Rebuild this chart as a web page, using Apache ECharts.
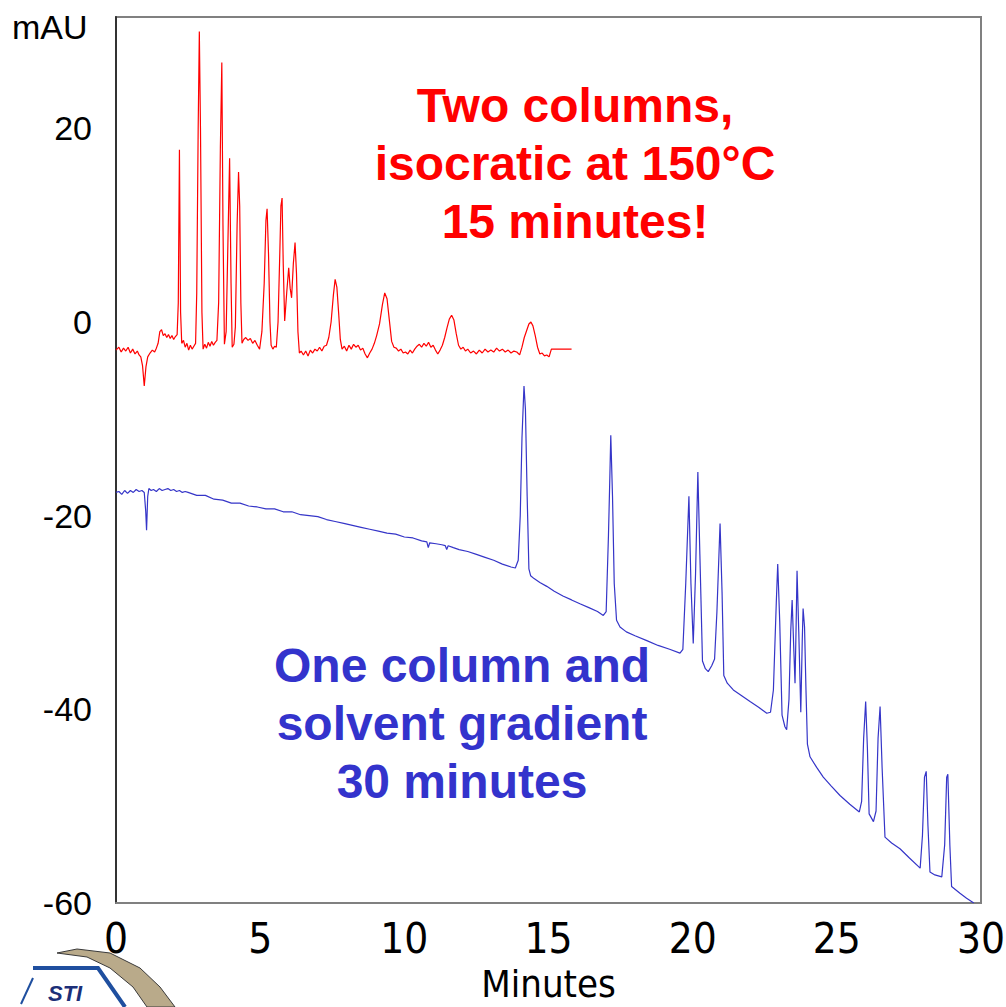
<!DOCTYPE html>
<html>
<head>
<meta charset="utf-8">
<script src="https://cdn.jsdelivr.net/npm/echarts@6/dist/echarts.min.js"></script>
<style>
  html, body { margin: 0; padding: 0; background: #fff; }
  #chart { width: 1006px; height: 1007px; }
</style>
</head>
<body>
<div id="chart"></div>
<script>
// red trace: two columns, isocratic at 150 C (minutes, mAU)
const redTime = [
  0.00, 0.10, 0.18, 0.26, 0.34, 0.42, 0.50, 0.58, 0.66, 0.74, 0.80, 0.86, 0.92, 0.98, 1.04, 1.10,
  1.18, 1.26, 1.34, 1.40, 1.46, 1.52, 1.58, 1.64, 1.70, 1.76, 1.82, 1.88, 1.94, 2.00, 2.06, 2.12,
  2.16, 2.20, 2.24, 2.28, 2.34, 2.40, 2.46, 2.52, 2.58, 2.64, 2.70, 2.76, 2.80, 2.85, 2.89, 2.93,
  2.98, 3.02, 3.08, 3.14, 3.20, 3.26, 3.32, 3.38, 3.44, 3.50, 3.56, 3.62, 3.67, 3.71, 3.76, 3.82,
  3.88, 3.94, 3.99, 4.03, 4.09, 4.14, 4.20, 4.25, 4.29, 4.33, 4.37, 4.43, 4.50, 4.58, 4.66, 4.74,
  4.82, 4.90, 4.98, 5.06, 5.14, 5.20, 5.24, 5.29, 5.34, 5.38, 5.44, 5.50, 5.56, 5.62, 5.68, 5.72,
  5.76, 5.80, 5.85, 5.92, 5.99, 6.04, 6.09, 6.15, 6.21, 6.26, 6.31, 6.36, 6.42, 6.50, 6.58, 6.66,
  6.74, 6.82, 6.90, 6.98, 7.06, 7.14, 7.22, 7.30, 7.38, 7.46, 7.54, 7.60, 7.66, 7.72, 7.78, 7.84,
  7.92, 8.00, 8.08, 8.16, 8.24, 8.32, 8.40, 8.48, 8.56, 8.64, 8.72, 8.80, 8.88, 8.96, 9.04, 9.14,
  9.24, 9.32, 9.40, 9.48, 9.56, 9.64, 9.72, 9.80, 9.88, 9.96, 10.04, 10.12, 10.20, 10.28, 10.36, 10.44,
  10.52, 10.60, 10.68, 10.76, 10.84, 10.92, 11.00, 11.08, 11.16, 11.24, 11.32, 11.40, 11.48, 11.56, 11.64, 11.72,
  11.80, 11.88, 11.96, 12.04, 12.12, 12.20, 12.30, 12.40, 12.50, 12.60, 12.70, 12.80, 12.90, 13.00, 13.10, 13.20,
  13.30, 13.40, 13.50, 13.60, 13.70, 13.80, 13.90, 14.00, 14.08, 14.16, 14.24, 14.32, 14.39, 14.46, 14.54, 14.62,
  14.70, 14.78, 14.86, 14.94, 15.02, 15.10, 15.80
];
const redSignal = [
  -2.9, -2.6, -3.1, -2.7, -3.0, -2.6, -3.2, -2.8, -3.3, -3.0, -3.4, -3.6, -4.5, -6.6, -4.6, -3.6,
  -3.2, -2.9, -3.1, -2.7, -2.2, -1.0, -0.8, -1.4, -1.2, -1.6, -1.3, -1.7, -1.4, -1.8, -1.5, -1.3,
  2.0, 17.8, 1.0, -2.2, -1.9, -2.6, -2.2, -2.9, -2.4, -2.8, -2.5, -2.2, 3.0, 20.0, 30.0, 20.0,
  1.0, -2.8, -2.3, -2.7, -2.1, -2.5, -2.0, -2.4, -2.1, -1.9, 2.0, 18.0, 26.8, 10.0, -2.3, -1.0,
  8.0, 16.9, 4.0, -2.6, -2.3, -0.5, 10.0, 15.5, 12.0, 2.0, -2.2, -1.8, -1.6, -1.9, -1.7, -2.2,
  -1.9, -2.4, -2.8, -1.0, 4.0, 10.5, 11.7, 7.0, 0.0, -2.4, -2.8, -2.5, -2.6, 0.0, 7.0, 12.0,
  12.8, 6.0, 0.1, 3.0, 5.6, 3.5, 2.5, 6.0, 8.2, 5.0, -1.0, -3.2, -3.0, -3.4, -3.0, -3.5,
  -2.9, -3.2, -2.8, -3.0, -2.6, -3.0, -2.5, -2.4, -1.6, 0.0, 2.8, 4.4, 3.6, 1.0, -1.8, -2.8,
  -2.5, -3.0, -2.4, -2.8, -2.3, -2.6, -2.4, -2.9, -2.7, -3.3, -3.7, -3.2, -2.8, -2.2, -1.4, -0.2,
  1.8, 3.0, 2.4, 0.2, -2.0, -2.6, -2.7, -3.0, -2.8, -3.2, -3.1, -3.3, -2.9, -3.2, -2.8, -2.5,
  -2.3, -2.6, -2.2, -2.5, -2.1, -2.6, -2.4, -2.9, -3.3, -2.9, -2.4, -1.6, -0.6, 0.3, 0.7, 0.2,
  -1.2, -2.4, -2.8, -2.6, -3.0, -2.8, -3.2, -3.0, -3.3, -2.9, -3.2, -2.8, -3.1, -2.9, -3.1, -2.7,
  -3.0, -2.8, -3.1, -2.9, -3.2, -3.0, -3.1, -3.4, -2.6, -1.6, -0.9, -0.2, 0.0, -0.4, -1.4, -2.6,
  -3.3, -3.2, -3.5, -3.4, -3.6, -2.8, -2.8
];

// blue trace: one column and solvent gradient (minutes, mAU)
const blueTime = [
  0.00, 0.10, 0.20, 0.30, 0.40, 0.50, 0.60, 0.70, 0.80, 0.90, 0.98, 1.03, 1.06, 1.10, 1.14, 1.22,
  1.30, 1.40, 1.50, 1.60, 1.70, 1.80, 1.90, 2.00, 2.10, 2.20, 2.30, 2.40, 2.50, 2.80, 3.10, 3.40,
  3.70, 4.00, 4.30, 4.60, 4.90, 5.20, 5.50, 5.80, 6.10, 6.40, 6.70, 7.00, 7.30, 7.60, 7.90, 8.20,
  8.50, 8.80, 9.10, 9.40, 9.70, 10.00, 10.30, 10.60, 10.78, 10.83, 10.88, 11.10, 11.30, 11.42, 11.47, 11.52,
  11.70, 11.90, 12.20, 12.50, 12.80, 13.10, 13.40, 13.70, 13.85, 13.95, 14.02, 14.08, 14.15, 14.20, 14.26, 14.32,
  14.38, 14.50, 14.70, 14.94, 15.20, 15.50, 15.80, 16.09, 16.40, 16.70, 16.90, 17.00, 17.08, 17.12, 17.16, 17.22,
  17.28, 17.36, 17.48, 17.70, 18.00, 18.41, 18.80, 19.20, 19.56, 19.66, 19.76, 19.87, 19.94, 20.02, 20.10, 20.18,
  20.25, 20.34, 20.44, 20.54, 20.66, 20.76, 20.84, 20.95, 21.02, 21.08, 21.20, 21.41, 21.70, 21.99, 22.30, 22.57,
  22.70, 22.80, 22.90, 22.95, 23.02, 23.10, 23.20, 23.26, 23.34, 23.40, 23.45, 23.51, 23.55, 23.59, 23.62, 23.68,
  23.75, 23.80, 23.83, 23.88, 23.93, 23.98, 24.07, 24.30, 24.53, 24.80, 25.11, 25.45, 25.78, 25.86, 25.93, 26.00,
  26.06, 26.12, 26.27, 26.36, 26.43, 26.50, 26.57, 26.67, 26.90, 27.19, 27.50, 27.89, 27.97, 28.04, 28.10, 28.16,
  28.23, 28.40, 28.64, 28.74, 28.81, 28.85, 28.92, 28.98, 29.27, 29.50, 29.75
];
const blueSignal = [
  -17.6, -17.5, -17.8, -17.4, -17.7, -17.4, -17.6, -17.3, -17.5, -17.4, -17.6, -19.5, -21.5, -18.0, -17.2, -17.4,
  -17.3, -17.5, -17.2, -17.4, -17.3, -17.2, -17.4, -17.3, -17.5, -17.4, -17.6, -17.5, -17.6, -17.9, -17.9, -18.3,
  -18.4, -18.7, -18.7, -19.0, -19.1, -19.3, -19.3, -19.6, -19.6, -19.9, -20.0, -20.1, -20.4, -20.6, -20.8, -21.0,
  -21.2, -21.4, -21.6, -21.8, -21.9, -22.2, -22.3, -22.6, -22.7, -23.3, -22.8, -22.9, -23.0, -23.1, -23.5, -23.1,
  -23.3, -23.5, -23.7, -24.0, -24.3, -24.6, -25.0, -25.3, -25.4, -24.6, -20.0, -12.0, -6.6, -9.0, -18.0, -25.5,
  -26.2, -26.5, -26.9, -27.3, -27.8, -28.3, -28.7, -29.1, -29.5, -29.9, -30.3, -29.9, -22.0, -17.0, -11.7, -18.0,
  -27.0, -30.8, -31.5, -32.0, -32.4, -32.9, -33.4, -33.8, -34.2, -33.8, -27.0, -18.0, -27.0, -33.2, -26.0, -15.5,
  -24.0, -35.0, -35.8, -36.1, -35.5, -34.8, -30.0, -20.8, -28.0, -36.5, -37.3, -38.0, -38.6, -39.2, -39.8, -40.4,
  -40.3, -38.0, -29.0, -25.0, -31.0, -40.6, -41.8, -42.1, -39.0, -32.0, -28.7, -34.0, -37.3, -31.0, -25.7, -32.0,
  -40.3, -33.0, -29.6, -31.5, -38.0, -43.6, -44.9, -46.0, -47.0, -47.9, -48.9, -49.8, -50.6, -49.5, -43.0, -39.2,
  -44.0, -50.8, -51.6, -50.5, -43.0, -39.7, -46.0, -53.2, -53.8, -54.4, -55.3, -56.4, -53.0, -47.0, -46.4, -52.0,
  -56.8, -57.1, -57.3, -54.0, -47.0, -46.7, -54.0, -58.3, -59.0, -59.5, -60.0
];

const redNote = ["Two columns,", "isocratic at 150°C", "15 minutes!"];
const blueNote = ["One column and", "solvent gradient", "30 minutes"];

const narrowFont = "'Liberation Sans Narrow', 'DejaVu Sans Condensed', 'Liberation Sans'";

const myChart = echarts.init(document.getElementById("chart"), null, { renderer: "svg" });

let xAxis = {
  type: "value",
  min: 0,
  max: 30,
  interval: 5,
  name: "Minutes",
  nameLocation: "middle",
  nameGap: 62,
  nameTextStyle: {
    fontFamily: narrowFont,
    fontSize: 38,
    color: "#000",
  },
  axisLine: { show: true, onZero: false, lineStyle: { color: "#808080", width: 2 } },
  axisTick: { show: false },
  splitLine: { show: false },
  axisLabel: {
    fontFamily: narrowFont,
    fontSize: 42,
    color: "#000",
    margin: 14,
  },
};
let yAxis = {
  type: "value",
  min: -60,
  max: 31.5,
  interval: 20,
  axisLine: { show: true, onZero: false, lineStyle: { color: "#333", width: 2 } },
  axisTick: { show: false },
  splitLine: { show: false },
  axisLabel: {
    fontFamily: "Liberation Sans",
    fontSize: 34,
    color: "#000",
    margin: 24,
    formatter: (val) => (val % 20 === 0 ? String(val) : ""),
  },
};
let series = [
  {
    name: "isocratic",
    type: "line",
    data: redTime.map((t, i) => [t, redSignal[i]]),
    showSymbol: false,
    color: "#ff0000",
    lineStyle: { width: 1.2 },
    z: 3,
  },
  {
    name: "gradient",
    type: "line",
    data: blueTime.map((t, i) => [t, blueSignal[i]]),
    showSymbol: false,
    color: "#3535c8",
    lineStyle: { width: 1.2 },
    z: 3,
  },
];
let graphic = [
  {
    type: "text",
    left: 12,
    top: 10,
    style: { text: "mAU", font: "34px 'Liberation Sans'", fill: "#000" },
  },
  {
    type: "text",
    x: 575,
    y: 163,
    style: {
      text: redNote.join("\n"),
      font: "bold 48px 'Liberation Sans'",
      fill: "#ff0000",
      align: "center",
      verticalAlign: "middle",
      lineHeight: 58,
    },
  },
  {
    type: "text",
    x: 462,
    y: 723,
    style: {
      text: blueNote.join("\n"),
      font: "bold 48px 'Liberation Sans'",
      fill: "#3333cc",
      align: "center",
      verticalAlign: "middle",
      lineHeight: 58,
    },
  },
  // logo corner (partly cut off)
  {
    type: "polygon",
    shape: {
      points: [[57, 953], [77, 949], [110, 953], [140, 968], [160, 987], [175, 1007],
               [147, 1007], [133, 987], [110, 968], [87, 957]],
    },
    style: { fill: "#b9aa8a", stroke: "#3a3a3a", lineWidth: 1 },
    z: 1,
  },
  {
    type: "polyline",
    shape: { points: [[33, 968], [98, 968], [125, 1007]] },
    style: { stroke: "#1f4f9f", lineWidth: 4, fill: null },
  },
  {
    type: "line",
    shape: { x1: 33, y1: 978, x2: 21, y2: 1004 },
    style: { stroke: "#1f4f9f", lineWidth: 2 },
  },
  {
    type: "text",
    x: 48,
    y: 982,
    style: { text: "STI", font: "italic bold 22px 'Liberation Sans'", fill: "#1c2f78" },
  },
];
let option = {
  animation: false,
  grid: {
    left: 116,
    right: 25,
    top: 17,
    bottom: 104,
    outerBoundsMode: "none",
    containLabel: false,
    show: true,
    borderColor: "#808080",
    borderWidth: 2,
  },
  xAxis,
  yAxis,
  series,
  graphic,
};
myChart.setOption(option);
</script>
</body>
</html>
